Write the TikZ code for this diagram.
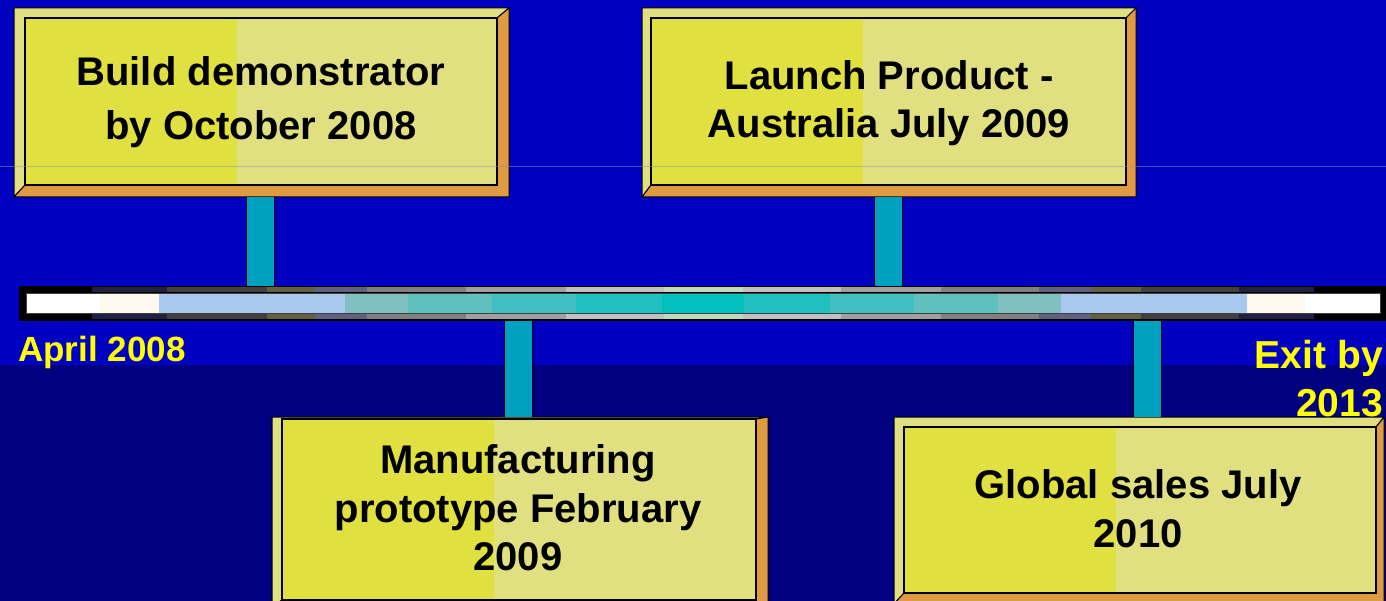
\documentclass[tikz,border=0pt]{standalone}
\usepackage{fontspec}
\setmainfont{Liberation Sans}
\usetikzlibrary{calc}
\definecolor{bgtop}{HTML}{0000C0}
\definecolor{bgbot}{HTML}{000080}
\definecolor{faceY}{HTML}{E0E040}
\definecolor{faceP}{HTML}{E0E080}
\definecolor{bevL}{HTML}{E0E080}
\definecolor{bevD}{HTML}{E09A40}
\definecolor{postc}{HTML}{00A0C0}
\definecolor{labc}{HTML}{FFFF00}
\definecolor{cream}{HTML}{FFF8EE}
\definecolor{lblue}{HTML}{A8C8F0}
\definecolor{tA}{HTML}{80C0C0}
\definecolor{tB}{HTML}{60C0C0}
\definecolor{tC}{HTML}{40C0C0}
\definecolor{tD}{HTML}{20C0C0}
\definecolor{tE}{HTML}{00C0C0}
\definecolor{gA}{HTML}{202040}
\definecolor{gB}{HTML}{404040}
\definecolor{gC}{HTML}{606040}
\definecolor{gD}{HTML}{606080}
\definecolor{gE}{HTML}{808080}
\definecolor{gF}{HTML}{A0A0A0}
\definecolor{gG}{HTML}{C0C0C0}
\definecolor{gH}{HTML}{C0D8C0}
\definecolor{faint}{HTML}{9090B0}

\newcommand\bevbox[9]{%
  \fill[bevL,draw=black,line width=1pt] (#2,#3) -- (#4,#3) -- (#8,#7) -- (#6,#7) -- (#6,#9) -- (#2,#5) -- cycle;
  \fill[bevD,draw=black,line width=1pt] (#4,#3) -- (#4,#5) -- (#2,#5) -- (#6,#9) -- (#8,#9) -- (#8,#7) -- cycle;
  \fill[faceP] (#6,#7) rectangle (#8,#9);
  \fill[faceY] (#6,#7) rectangle ({#6+212},#9);
  \draw[black,line width=1.3pt] (#6,#7) rectangle (#8,#9);
  \node[outerbox, minimum width={#4-#2}, minimum height={#5-#3}] (#1) at ({(#2+#4)/2},{(#3+#5)/2}) {};
}

\begin{document}
\begin{tikzpicture}[x=1pt,y=-1pt,
  outerbox/.style={inner sep=0pt, outer sep=0pt, draw=none},
  boxtext/.style={align=center, text=black, inner sep=0pt},
  datelab/.style={text=labc, inner sep=0pt, font=\bfseries\fontsize{35}{48}\selectfont},
  postline/.style={draw=black, line width=1pt, double=postc, double distance=27pt}]
\useasboundingbox (0,0) rectangle (1386,601);
\clip (0,0) rectangle (1386,601);
% background
\fill[bgtop] (0,0) rectangle (1386,365);
\fill[bgbot] (0,365) rectangle (1386,601);

% boxes
\bevbox{b1}{14}{8}{509}{197}{25}{18}{497}{185}
\bevbox{b2}{642}{8}{1136}{197}{651}{18}{1126}{185}
\bevbox{b3}{272}{417}{768}{607}{282}{419}{756}{600}
\bevbox{b4}{894}{417}{1384}{604}{904}{427}{1376}{593}

% timeline bar
\node[fill=black, inner sep=0pt, outer sep=0pt, minimum width=1370, minimum height=35] (bar) at (704,303.5) {};
\foreach \a/\b/\c in {92/167/gA,167/267/gB,267/315/gC,315/367/gD,367/466/gE,466/566/gF,566/664/gG,664/743/gH,743/841/gG,841/941/gF,941/1039/gE,1039/1091/gD,1091/1141/gC,1141/1239/gB,1239/1314/gA}{
  \fill[\c] (\a,287.5) rectangle (\b,292);
  \fill[\c] (\a,314.5) rectangle (\b,319.5);
}
\foreach \a/\b/\c in {26/100/white,100/159/cream,159/345/lblue,345/408/tA,408/492/tB,492/576/tC,576/662/tD,662/744/tE,744/830/tD,830/914/tC,914/998/tB,998/1061/tA,1061/1247/lblue,1247/1305/cream,1305/1380/white}{
  \fill[\c] (\a,293) rectangle (\b,313);
}
\draw[black!75, line width=0.8pt] (26,293) rectangle (1380,313);

% connectors
\coordinate (k1) at (260.5,0);
\coordinate (k2) at (888.5,0);
\coordinate (k3) at (518,0);
\coordinate (k4) at (1147,0);
\draw[postline] (b1.south -| k1) -- (bar.north -| k1);
\draw[postline] (b2.south -| k2) -- (bar.north -| k2);
\draw[postline] (bar.south -| k3) -- (b3.north -| k3);
\draw[postline] (bar.south -| k4) -- (b4.north -| k4);

% box texts
\node[boxtext, font=\bfseries\fontsize{40}{54}\selectfont] (t1) at (261,102) {Build demonstrator\\by October 2008};
\node[boxtext, font=\bfseries\fontsize{40}{48}\selectfont] (t2) at (889,103) {Launch Product -\\Australia July 2009};
\node[boxtext, font=\bfseries\fontsize{40}{48.5}\selectfont] (t3) at (518,508) {Manufacturing\\prototype February\\2009};
\node[boxtext, font=\bfseries\fontsize{40}{49}\selectfont] (t4) at (1138,509) {Global sales July\\2010};

% date labels
\node[datelab, anchor=base west] (lstart) at (18,362) {April 2008};
\node[datelab, anchor=base east, font=\bfseries\fontsize{39}{48}\selectfont] (lend1) at (1383,368) {Exit by};
\node[datelab, anchor=base east, font=\bfseries\fontsize{39}{48}\selectfont] (lend2) at (1383,416) {2013};

% faint horizontal line
\draw[faint, opacity=0.5, line width=1pt] (0,166.5) -- (1386,166.5);
\end{tikzpicture}
\end{document}
